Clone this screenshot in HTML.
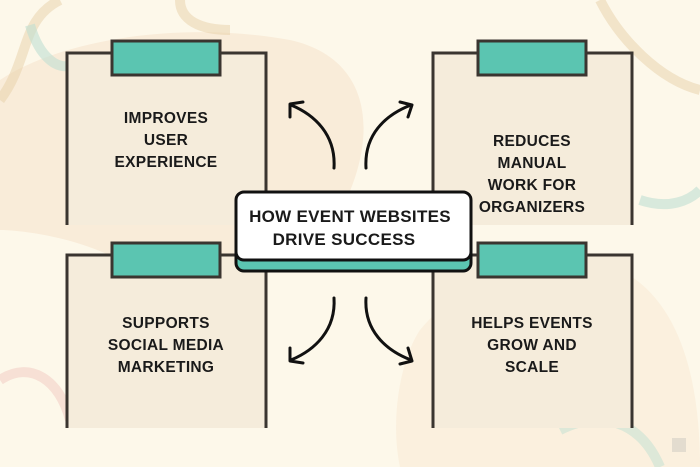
<!DOCTYPE html>
<html><head><meta charset="utf-8"><style>
body{margin:0;width:700px;height:467px;overflow:hidden;background:#fdf8ea;font-family:"Liberation Sans",sans-serif}
svg{position:absolute;left:0;top:0}
.t{font-family:"Liberation Sans",sans-serif;font-weight:bold;font-size:15.5px;fill:#1a1a1a;text-anchor:middle;letter-spacing:0.3px}
</style></head><body>
<svg width="700" height="467" viewBox="0 0 700 467">
<rect width="700" height="467" fill="#fdf8ea"/>
<path d="M0 80 C60 40 180 20 290 40 C380 60 380 150 330 230 C300 280 200 300 120 260 C60 230 0 230 0 230Z" fill="#f9ecd9"/>
<path d="M420 330 C470 270 560 240 620 270 C680 300 700 380 700 467 L400 467 C390 420 400 360 420 330Z" fill="#f9ecd9" opacity=".7"/>
<path d="M0 100 C30 60 20 20 60 0" fill="none" stroke="#e8d0a8" stroke-width="10" opacity=".5"/>
<path d="M30 25 C40 60 60 70 70 65" fill="none" stroke="#bfe0d2" stroke-width="10" opacity=".6"/>
<path d="M180 0 C180 20 200 30 230 30" fill="none" stroke="#e8d0a8" stroke-width="10" opacity=".5"/>
<path d="M600 0 C620 40 660 80 700 90" fill="none" stroke="#e8d0a8" stroke-width="10" opacity=".5"/>
<path d="M640 200 C670 210 690 200 700 190" fill="none" stroke="#bfe0d2" stroke-width="10" opacity=".6"/>
<path d="M0 380 C30 360 60 380 70 420" fill="none" stroke="#f2c8c0" stroke-width="10" opacity=".5"/>
<path d="M560 430 C600 410 640 420 660 467" fill="none" stroke="#bfe0d2" stroke-width="10" opacity=".5"/>
<rect x="672" y="438" width="14" height="14" fill="#e3dccf"/>
<g stroke="#3a3530" stroke-width="3">
<path d="M67 225 V53 H266 V225" fill="#f5ecdb"/>
<path d="M433 225 V53 H632 V225" fill="#f5ecdb"/>
<path d="M67 428 V255 H266 V428" fill="#f5ecdb"/>
<path d="M433 428 V255 H632 V428" fill="#f5ecdb"/>
<rect x="112" y="41" width="108" height="34" fill="#5bc5b1"/>
<rect x="478" y="41" width="108" height="34" fill="#5bc5b1"/>
<rect x="112" y="243" width="108" height="34" fill="#5bc5b1"/>
<rect x="478" y="243" width="108" height="34" fill="#5bc5b1"/>
</g>
<text class="t" x="166" y="123">IMPROVES</text>
<text class="t" x="166" y="145">USER</text>
<text class="t" x="166" y="167">EXPERIENCE</text>
<text class="t" x="532" y="146">REDUCES</text>
<text class="t" x="532" y="168">MANUAL</text>
<text class="t" x="532" y="190">WORK FOR</text>
<text class="t" x="532" y="212">ORGANIZERS</text>
<text class="t" x="166" y="328">SUPPORTS</text>
<text class="t" x="166" y="350">SOCIAL MEDIA</text>
<text class="t" x="166" y="372">MARKETING</text>
<text class="t" x="532" y="328">HELPS EVENTS</text>
<text class="t" x="532" y="350">GROW AND</text>
<text class="t" x="532" y="372">SCALE</text>
<rect x="236" y="200" width="235" height="71" rx="8" fill="#5bc5b1" stroke="#111" stroke-width="3"/>
<rect x="236" y="192" width="235" height="68" rx="8" fill="#fff" stroke="#111" stroke-width="3"/>
<text class="t" x="350" y="222" style="font-size:17px">HOW EVENT WEBSITES</text>
<text class="t" x="344" y="245" style="font-size:17px">DRIVE SUCCESS</text>
<g fill="none" stroke="#111" stroke-width="3" stroke-linecap="round" stroke-linejoin="round">
<path d="M334 168 C336 135 315 115 291 105"/><path d="M290 117 L290 104 L303 102"/>
<path d="M366 168 C364 135 385 115 411 105"/><path d="M400 102 L412 105 L408 117"/>
<path d="M334 298 C336 330 315 350 291 360"/><path d="M290 348 L290 361 L303 363"/>
<path d="M366 298 C364 330 385 350 411 360"/><path d="M408 348 L412 361 L400 364"/>
</g>
</svg>
</body></html>
